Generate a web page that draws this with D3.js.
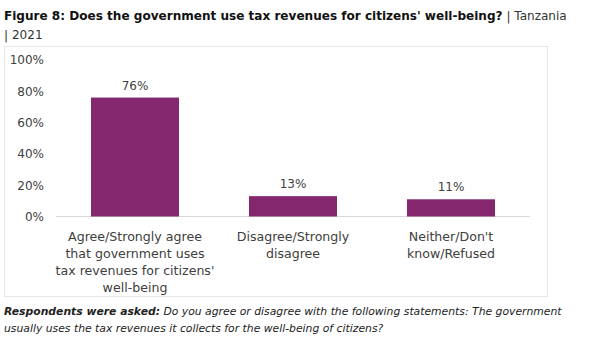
<!DOCTYPE html>
<html><head><meta charset="utf-8">
<script src="https://cdn.jsdelivr.net/npm/d3@7"></script>
<style>
body{margin:0;background:#fff;}
svg{display:block;font-family:"DejaVu Sans",sans-serif;}
</style></head>
<body><svg id="c" width="602" height="342"></svg>
<script>
const categories = [
  ["Agree/Strongly agree","that government uses","tax revenues for citizens'","well-being"],
  ["Disagree/Strongly","disagree"],
  ["Neither/Don't","know/Refused"]
];
const values = [76, 13, 11];
const yTicks = [0, 20, 40, 60, 80, 100];

const svg = d3.select("#c");
const purple = "#84276F";

// title
const t = svg.append("text").attr("x",4).attr("y",20).attr("font-size",12.05).attr("fill","#111");
t.append("tspan").attr("font-weight","bold").text("Figure 8: Does the government use tax revenues for citizens' well-being?");
t.append("tspan").attr("fill","#333").text(" | Tanzania");
svg.append("text").attr("x",4).attr("y",39).attr("font-size",12.05).attr("fill","#333").text("| 2021");

// box
svg.append("rect").attr("x",4.5).attr("y",46.5).attr("width",543).attr("height",250)
  .attr("fill","none").attr("stroke","#e6e6e6");

const x = d3.scaleBand().domain(d3.range(values.length)).range([56,530]).paddingInner(0.443).paddingOuter(0.2215);
const y = d3.scaleLinear().domain([0,100]).range([216.5,60]);

// y axis
const yAxis = d3.axisLeft(y).tickValues(yTicks).tickFormat(d=>d+"%").tickSize(0).tickPadding(0);
const ga = svg.append("g").attr("transform","translate(44,0)").call(yAxis);
ga.select(".domain").remove();
ga.selectAll("text").attr("font-size",12).attr("fill","#404040").attr("font-family","DejaVu Sans, sans-serif");

// baseline
svg.append("line").attr("x1",56).attr("x2",530).attr("y1",216.5).attr("y2",216.5).attr("stroke","#d9d9d9");

// bars
svg.selectAll("rect.bar").data(values).join("rect").attr("class","bar")
  .attr("x",(d,i)=>x(i)).attr("width",x.bandwidth())
  .attr("y",d=>y(d)).attr("height",d=>y(0)-y(d)).attr("fill",purple);

// value labels
svg.selectAll("text.val").data(values).join("text").attr("class","val")
  .attr("x",(d,i)=>x(i)+x.bandwidth()/2).attr("y",d=>y(d)-8)
  .attr("text-anchor","middle").attr("font-size",12).attr("fill","#404040").text(d=>d+"%");

// category labels
categories.forEach((lines,i)=>{
  const tx = svg.append("text").attr("x",x(i)+x.bandwidth()/2).attr("y",241)
    .attr("text-anchor","middle").attr("font-size",12.6).attr("fill","#404040");
  lines.forEach((l,j)=>tx.append("tspan").attr("x",x(i)+x.bandwidth()/2).attr("dy",j?17:0).text(l));
});

// footnote
const f = svg.append("text").attr("x",4).attr("y",315).attr("font-size",10.8).attr("font-style","italic").attr("fill","#222");
f.append("tspan").attr("font-weight","bold").text("Respondents were asked:");
f.append("tspan").text(" Do you agree or disagree with the following statements: The government");
svg.append("text").attr("x",4).attr("y",332).attr("font-size",10.8).attr("font-style","italic").attr("fill","#222")
  .text("usually uses the tax revenues it collects for the well-being of citizens?");
</script></body></html>
